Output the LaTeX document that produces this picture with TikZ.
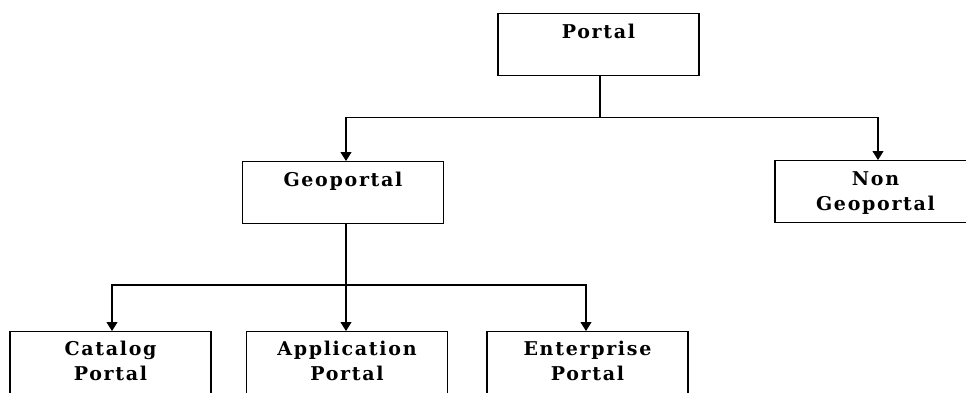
\documentclass[tikz,border=0pt]{standalone}
\usepackage{fontspec}
\newfontfamily\boxfont[LetterSpace=9]{DejaVu Serif Bold}
\usetikzlibrary{arrows.meta}
\tikzset{
  box/.style={draw=black, line width=1.1pt, minimum width=201pt, minimum height=62pt, anchor=north, inner sep=0pt},
  boxtext/.style={anchor=north, inner sep=0pt, align=center, font={\boxfont\fontsize{19}{25}\selectfont}},
  conn/.style={line width=1.1pt, draw=black},
  arr/.style={conn, -{Triangle[width=11pt,length=9pt]}}
}
\begin{document}
\begin{tikzpicture}[x=1pt,y=-1pt]
\useasboundingbox (0,0) rectangle (966,392);
\clip (0,0) rectangle (966,392);
% boxes
\node[box] (portal) at (598.5,13) {};
\node[box] (geo) at (343,161) {};
\node[box] (nongeo) at (875.5,160) {};
\node[box] (cat) at (110.5,331) {};
\node[box] (app) at (347,331) {};
\node[box] (ent) at (587.5,331) {};
% texts
\node[boxtext] (portal-t) at ([yshift=-11pt]portal.north) {Portal};
\node[boxtext] (geo-t) at ([yshift=-11pt]geo.north) {Geoportal};
\node[boxtext] (nongeo-t) at ([yshift=-11pt]nongeo.north) {Non\\Geoportal};
\node[boxtext] (cat-t) at ([yshift=-10pt]cat.north) {Catalog\\Portal};
\node[boxtext] (app-t) at ([yshift=-10pt]app.north) {Application\\Portal};
\node[boxtext] (ent-t) at ([yshift=-10pt]ent.north) {Enterprise\\Portal};
% junctions
\coordinate (j1) at (600,117.5);
\coordinate (j2) at (346,285);
% connectors level 1
\draw[conn] (portal.south -| j1) -- (j1);
\draw[arr] (j1) -| (geo.north -| 346,0);
\draw[arr] (j1) -| (nongeo.north -| 878,0);
% connectors level 2
\draw[conn] (geo.south -| j2) -- (j2);
\draw[arr] (j2) -| (cat.north -| 112,0);
\draw[arr] (j2) -- (app.north -| j2);
\draw[arr] (j2) -| (ent.north -| 586,0);
\end{tikzpicture}
\end{document}
